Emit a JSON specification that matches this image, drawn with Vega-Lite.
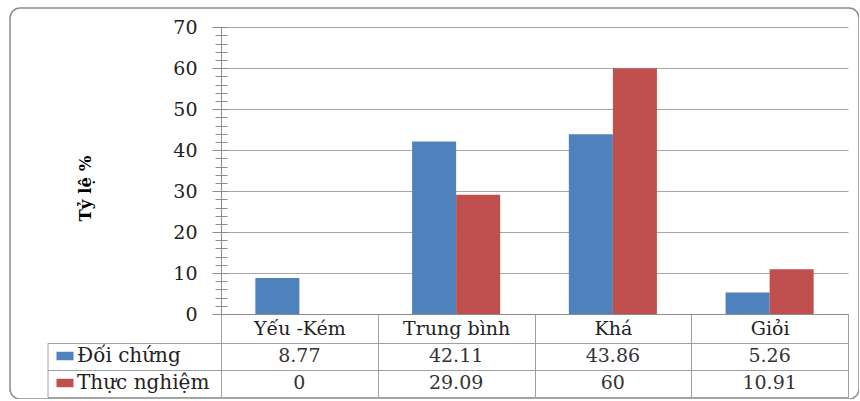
{
  "$schema": "https://vega.github.io/schema/vega-lite/v6.json",
  "width": 849,
  "height": 391,
  "autosize": {"type": "none"},
  "padding": {"left": 10, "top": 8, "right": 0, "bottom": 0},
  "background": "white",
  "datasets": {
    "scores": [
      {"category": "Yếu -Kém", "series": "Đối chứng", "value": 8.77},
      {"category": "Trung bình", "series": "Đối chứng", "value": 42.11},
      {"category": "Khá", "series": "Đối chứng", "value": 43.86},
      {"category": "Giỏi", "series": "Đối chứng", "value": 5.26},
      {"category": "Yếu -Kém", "series": "Thực nghiệm", "value": 0},
      {"category": "Trung bình", "series": "Thực nghiệm", "value": 29.09},
      {"category": "Khá", "series": "Thực nghiệm", "value": 60},
      {"category": "Giỏi", "series": "Thực nghiệm", "value": 10.91}
    ]
  },
  "data": {"name": "scores"},
  "layer": [
    {
      "mark": {"type": "bar"},
      "encoding": {
        "x": {
          "field": "category",
          "type": "nominal",
          "sort": ["Yếu -Kém", "Trung bình", "Khá", "Giỏi"],
          "scale": {"type": "band", "range": [211, 838], "paddingInner": 0, "paddingOuter": 0},
          "axis": {
            "orient": "bottom",
            "offset": -85,
            "title": null,
            "grid": false,
            "tickBand": "extent",
            "tickSize": 83,
            "tickColor": "#a0a0a0",
            "domainColor": "#8c8c8c",
            "labelAngle": 0,
            "labelFont": "DejaVu Serif",
            "labelFontSize": 19,
            "labelColor": "#222222",
            "labelBaseline": "middle",
            "labelPadding": -68.5
          }
        },
        "xOffset": {
          "field": "series",
          "type": "nominal",
          "sort": ["Đối chứng", "Thực nghiệm"],
          "scale": {"paddingInner": 0, "paddingOuter": 0.78}
        },
        "y": {
          "field": "value",
          "type": "quantitative",
          "scale": {"domain": [0, 70], "range": [306, 19.3], "nice": false, "zero": true},
          "axis": {
            "orient": "left",
            "offset": -211,
            "values": [0, 10, 20, 30, 40, 50, 60, 70],
            "tickSize": 9,
            "tickColor": "#8c8c8c",
            "domainColor": "#8c8c8c",
            "grid": true,
            "gridColor": "#a6a6a6",
            "labelFont": "DejaVu Serif",
            "labelFontSize": 19,
            "labelColor": "#222222",
            "labelPadding": 15,
            "title": "Tỷ lệ %",
            "titleFont": "DejaVu Serif",
            "titleFontWeight": "bold",
            "titleFontSize": 16.5,
            "titleColor": "#000000",
            "titlePadding": 79,
            "titleY": 180
          }
        },
        "color": {
          "field": "series",
          "type": "nominal",
          "scale": {"domain": ["Đối chứng", "Thực nghiệm"], "range": ["#4F81BD", "#C0504D"]},
          "legend": {
            "orient": "none",
            "legendX": 45,
            "legendY": 338,
            "title": null,
            "direction": "vertical",
            "symbolType": "M-1,-0.5H1V0.5H-1Z",
            "symbolSize": 289,
            "symbolStrokeWidth": 0,
            "labelFont": "DejaVu Serif",
            "labelFontSize": 20,
            "labelColor": "#222222",
            "labelOffset": 2,
            "rowPadding": 7,
            "padding": 0
          }
        }
      }
    },
    {
      "mark": {"type": "point", "opacity": 0},
      "encoding": {
        "y": {
          "field": "value",
          "type": "quantitative",
          "scale": {"domain": [0, 70], "range": [306, 19.3], "nice": false, "zero": true},
          "axis": {
            "orient": "left",
            "offset": -217,
            "values": [0, 2, 4, 6, 8, 10, 12, 14, 16, 18, 20, 22, 24, 26, 28, 30, 32, 34, 36, 38, 40, 42, 44, 46, 48, 50, 52, 54, 56, 58, 60, 62, 64, 66, 68, 70],
            "tickSize": 12,
            "tickColor": "#8c8c8c",
            "domain": false,
            "labels": false,
            "grid": false,
            "title": null
          }
        }
      }
    },
    {
      "mark": {"type": "text", "font": "DejaVu Serif", "fontSize": 19, "color": "#333333", "baseline": "middle"},
      "encoding": {
        "x": {"field": "category", "type": "nominal", "sort": ["Yếu -Kém", "Trung bình", "Khá", "Giỏi"]},
        "y": {
          "field": "series",
          "type": "nominal",
          "sort": ["Đối chứng", "Thực nghiệm"],
          "scale": {"type": "band", "range": [334.7, 389], "paddingInner": 0, "paddingOuter": 0},
          "axis": {
            "orient": "left",
            "offset": -37.5,
            "tickBand": "extent",
            "tickSize": -800.5,
            "tickColor": "#a0a0a0",
            "domainColor": "#a0a0a0",
            "labels": false,
            "grid": false,
            "title": null
          }
        },
        "text": {"field": "value", "type": "quantitative", "format": ""}
      }
    }
  ],
  "resolve": {"scale": {"y": "independent"}, "axis": {"y": "independent"}},
  "config": {
    "font": "DejaVu Serif",
    "view": {"stroke": "#8c8c8c", "strokeWidth": 1.5, "cornerRadius": 10}
  }
}
